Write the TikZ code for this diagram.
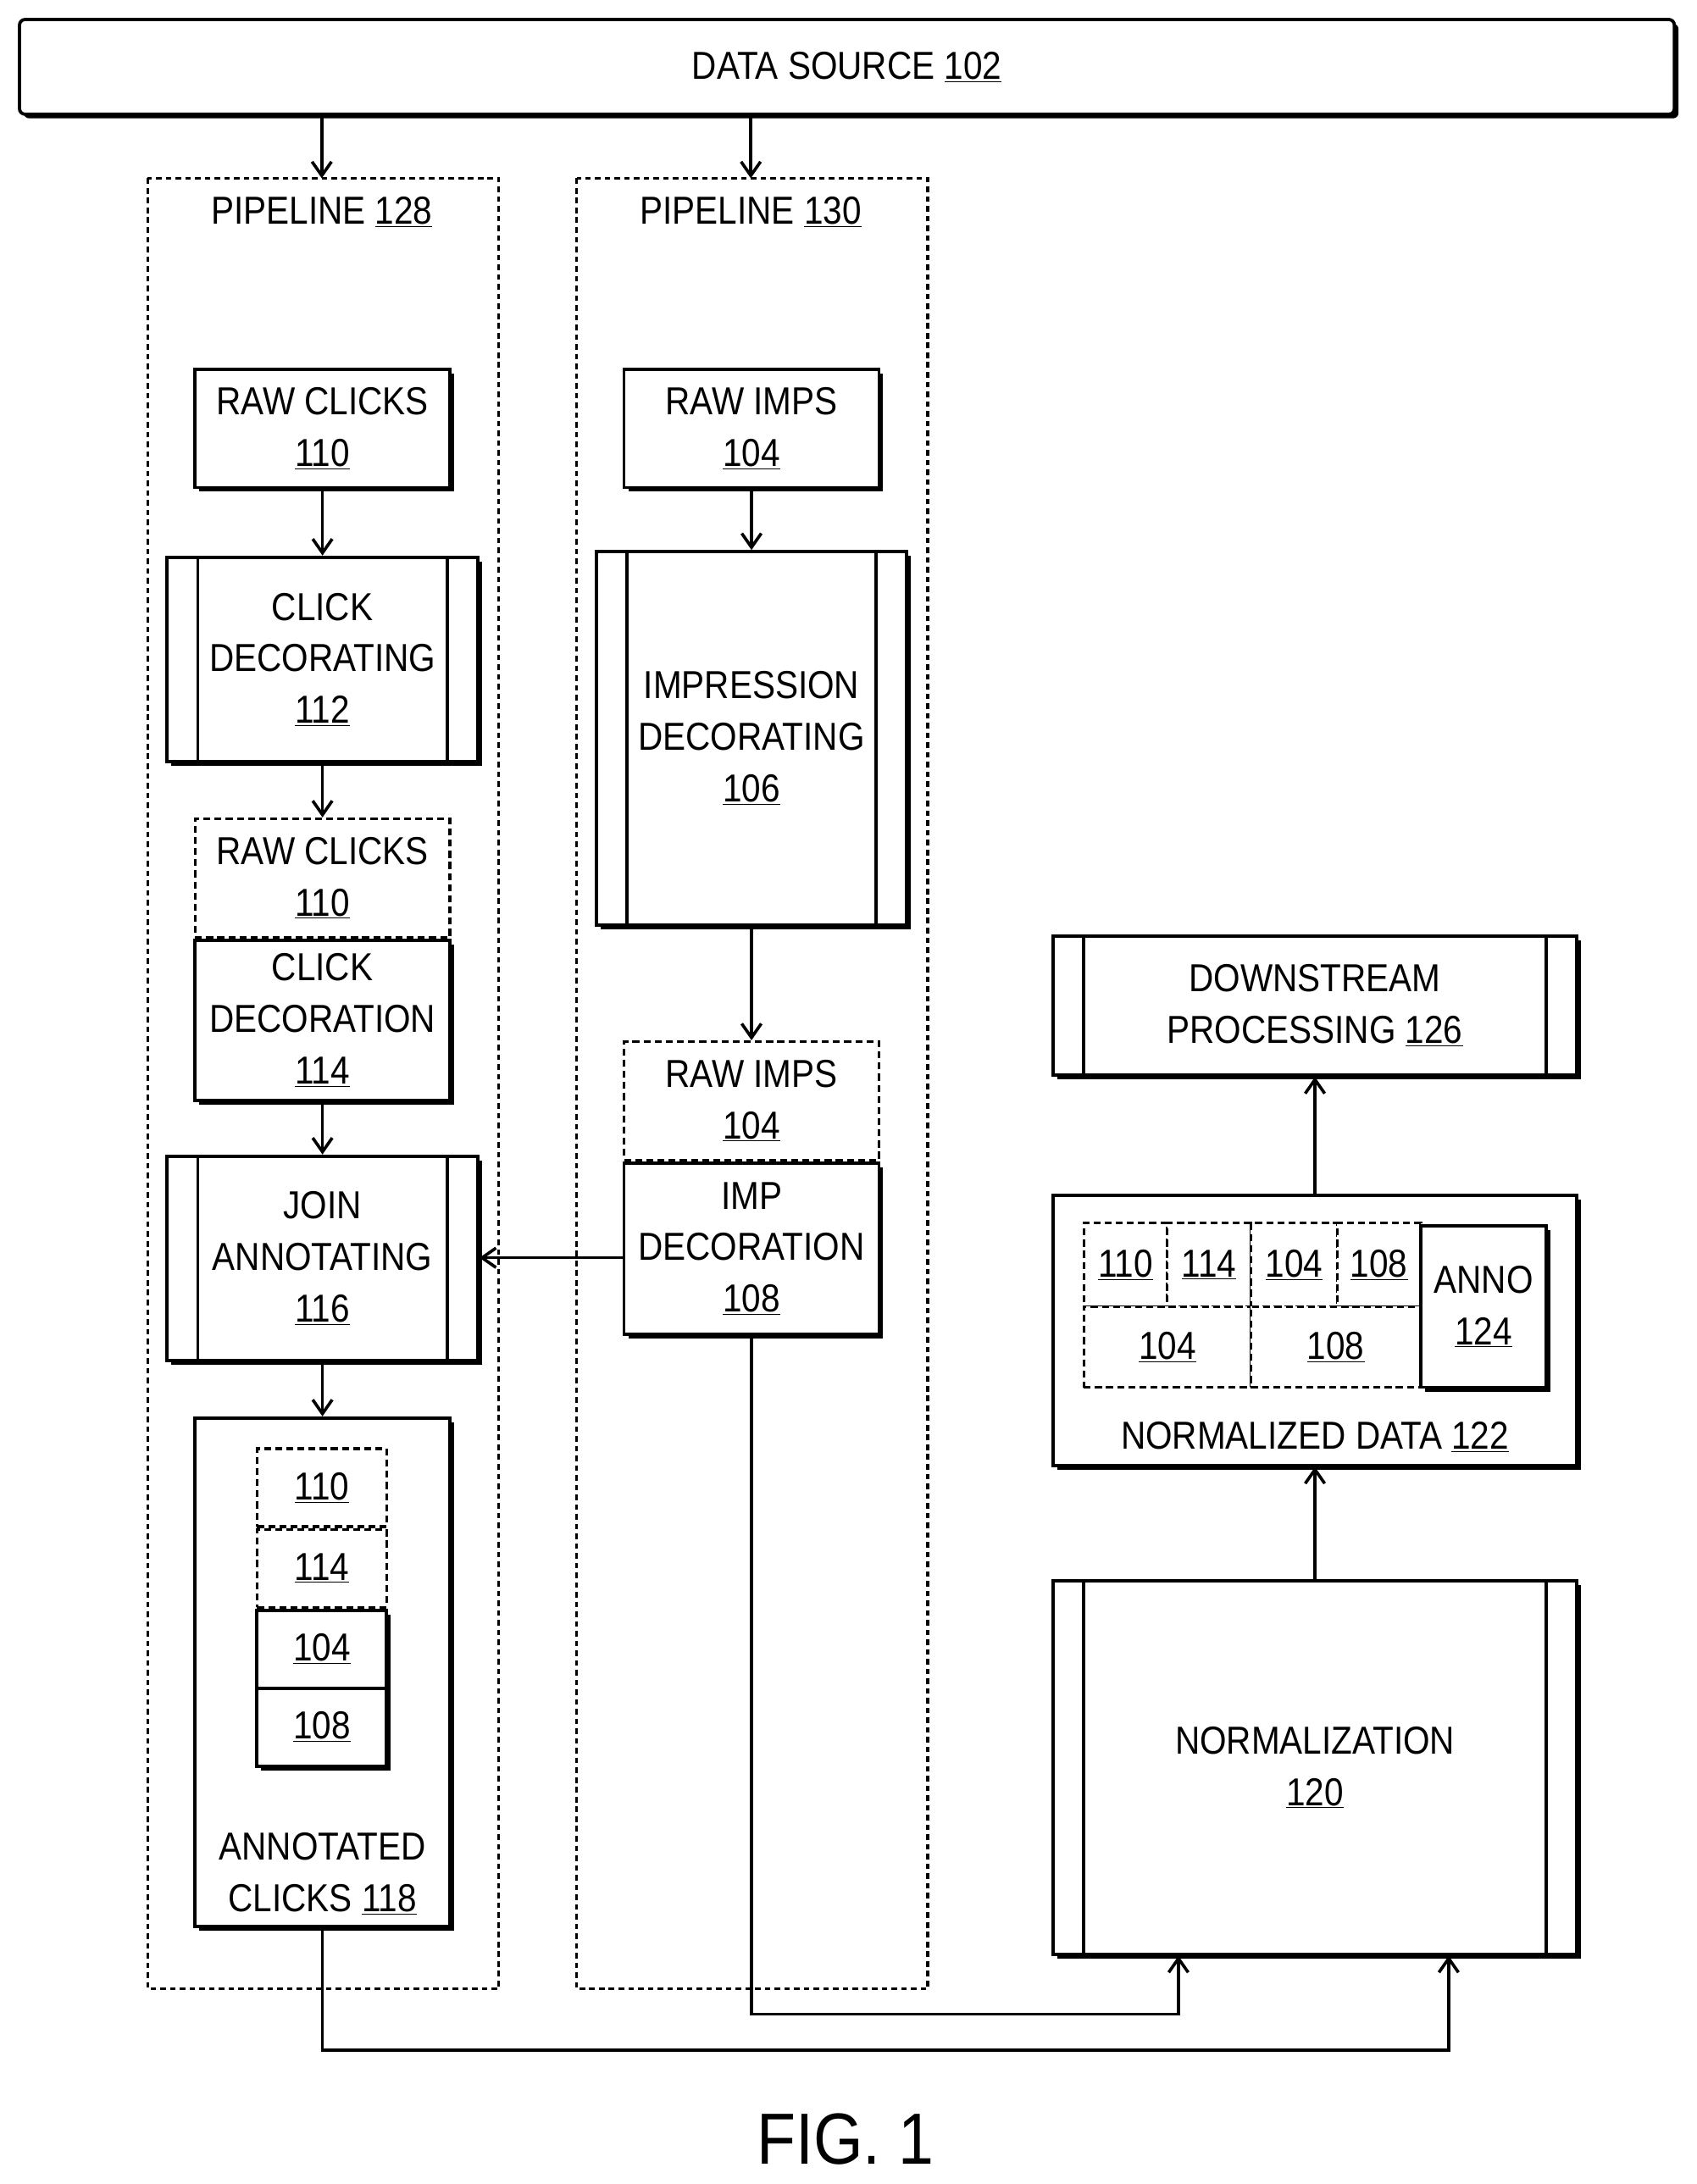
\documentclass[tikz,border=0pt]{standalone}
\usepackage{fontspec}
\setmainfont[FakeStretch=0.88]{Liberation Sans}
\usetikzlibrary{shadows,arrows.meta}

\tikzset{
  box/.style={draw, line width=2.3pt, fill=white, align=center, inner sep=0pt,
    drop shadow={shadow xshift=3pt, shadow yshift=-3pt, fill=black, opacity=1}},
  dbox/.style={draw, line width=2pt, dash pattern=on 5pt off 3pt, fill=white, align=center, inner sep=0pt},
  proc/.style={box, path picture={
    \draw[line width=2.3pt] ([xshift=22pt]path picture bounding box.north west) -- ([xshift=22pt]path picture bounding box.south west);
    \draw[line width=2.3pt] ([xshift=-22pt]path picture bounding box.north east) -- ([xshift=-22pt]path picture bounding box.south east);}},
  pipe/.style={draw, line width=2pt, dash pattern=on 4pt off 3pt},
  arr/.style={line width=2.2pt, -{Straight Barb[length=10pt,width=14pt]}},
  ln/.style={line width=2.2pt}
}
\newcommand{\ul}[1]{\underline{#1}}

\begin{document}
\begin{tikzpicture}[x=1pt, y=-1pt, font=\fontsize{28}{37}\selectfont]
\useasboundingbox (0,0) rectangle (1218,1568);

% data source
\node[box, rounded corners=4pt, minimum width=1188pt, minimum height=68pt] (src) at (608,48) {DATA SOURCE \ul{102}};

% pipelines
\draw[pipe] (106,128) rectangle (358,1428);
\node (p128) at (231,152) {PIPELINE \ul{128}};
\draw[pipe] (414,128) rectangle (666,1428);
\node (p130) at (539,152) {PIPELINE \ul{130}};
\coordinate (p128top) at (231,128);
\coordinate (p130top) at (539,128);
\draw[arr] (src.south -| p128top) -- (p128top);
\draw[arr] (src.south -| p130top) -- (p130top);

% pipeline 128
\node[box, minimum width=183pt, minimum height=85pt] (rawclk) at (231.5,307.5) {RAW CLICKS\\\ul{110}};
\node[proc, minimum width=223pt, minimum height=147pt] (clkdec) at (231.5,473.5) {CLICK\\DECORATING\\\ul{112}};
\node[box, minimum width=183pt, minimum height=115pt] (clkdn) at (231.5,732.5) {CLICK\\DECORATION\\\ul{114}};
\node[dbox, minimum width=183pt, minimum height=85pt, anchor=south] (rawclk2) at (clkdn.north) {RAW CLICKS\\\ul{110}};
\node[proc, minimum width=223pt, minimum height=147pt] (join) at (231.5,903.5) {JOIN\\ANNOTATING\\\ul{116}};
\node[box, minimum width=183pt, minimum height=365pt] (anncl) at (231.5,1200.5) {};
\node[anchor=south, align=center] (annlbl) at (231.5,1378) {ANNOTATED\\CLICKS \ul{118}};
\node[dbox, minimum width=93pt, minimum height=56pt] (a110) at (231,1068) {\ul{110}};
\node[dbox, minimum width=93pt, minimum height=56pt] (a114) at (231,1126) {\ul{114}};
\node[box, minimum width=93pt, minimum height=56pt] (a104) at (231,1184) {\ul{104}};
\node[box, minimum width=93pt, minimum height=56pt] (a108) at (231,1240) {\ul{108}};

\draw[arr] (rawclk) -- (clkdec);
\draw[arr] (clkdec) -- (rawclk2);
\draw[arr] (clkdn) -- (join);
\draw[arr] (join) -- (anncl);

% pipeline 130
\node[box, minimum width=183pt, minimum height=85pt] (rawimp) at (539.5,307.5) {RAW IMPS\\\ul{104}};
\node[proc, minimum width=223pt, minimum height=268pt] (impdec) at (539.5,530) {IMPRESSION\\DECORATING\\\ul{106}};
\node[box, minimum width=183pt, minimum height=123pt] (impdn) at (539.5,896.5) {IMP\\DECORATION\\\ul{108}};
\node[dbox, minimum width=183pt, minimum height=85pt, anchor=south] (rawimp2) at (impdn.north) {RAW IMPS\\\ul{104}};

\draw[arr] (rawimp) -- (impdec);
\draw[arr] (impdec) -- (rawimp2);
\draw[arr] (impdn.west |- 0,903) -- (join.east |- 0,903);

% right side
\node[proc, minimum width=376pt, minimum height=100pt] (down) at (944,722) {DOWNSTREAM\\PROCESSING \ul{126}};
\node[box, minimum width=376pt, minimum height=194pt] (norm) at (944,955) {};
\node[anchor=south] (normlbl) at (944,1046) {NORMALIZED DATA \ul{122}};
\node[dbox, minimum width=60pt, minimum height=60pt] (n110) at (808,908) {\ul{110}};
\node[dbox, minimum width=60pt, minimum height=60pt] (n114) at (868,908) {\ul{114}};
\node[dbox, minimum width=62pt, minimum height=60pt] (n104) at (929,908) {\ul{104}};
\node[dbox, minimum width=60pt, minimum height=60pt] (n108) at (990,908) {\ul{108}};
\node[dbox, minimum width=120pt, minimum height=58pt] (n104b) at (838,967) {\ul{104}};
\node[dbox, minimum width=122pt, minimum height=58pt] (n108b) at (959,967) {\ul{108}};
\node[box, minimum width=90pt, minimum height=116pt] (anno) at (1065,938) {ANNO\\\ul{124}};
\node[proc, minimum width=376pt, minimum height=268pt] (normz) at (944,1269) {NORMALIZATION\\\ul{120}};

\draw[arr] (normz) -- (norm);
\draw[arr] (norm) -- (down);

% connectors to normalization
\coordinate (c1) at (846,1446);
\coordinate (c2) at (1040,1472);
\draw[arr] (impdn.south) |- (c1) -- (normz.south -| c1);
\draw[arr] (anncl.south) |- (c2) -- (normz.south -| c2);

\node[font=\fontsize{52}{60}\selectfont] (fig) at (607,1536) {FIG. 1};
\end{tikzpicture}
\end{document}
